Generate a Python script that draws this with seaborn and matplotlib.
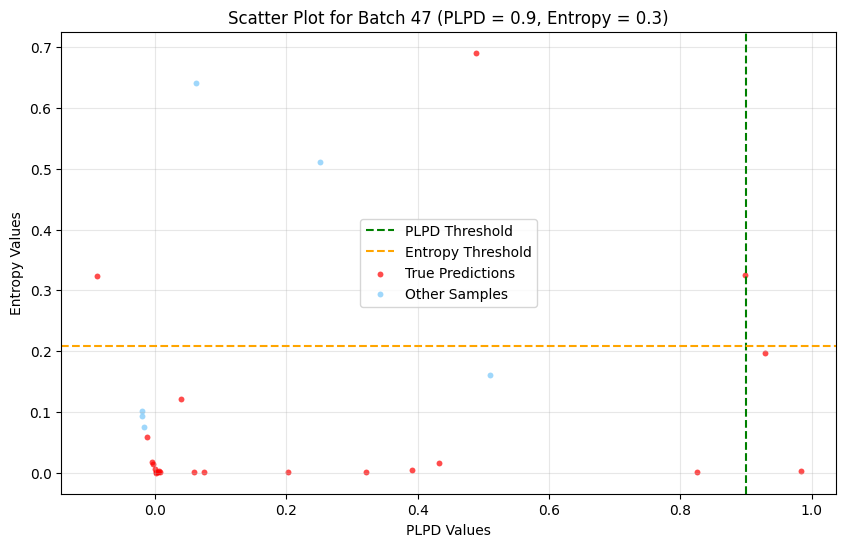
import numpy as np
import pandas as pd
import matplotlib
matplotlib.use("Agg")
import matplotlib.pyplot as plt
import seaborn as sns

# values
true_plpd = [0.489, -0.089, 0.898, 0.929, 0.039, -0.012, -0.004, -0.003, 0.000,
             0.002, 0.004, 0.006, 0.008, 0.001, 0.059, 0.074, 0.203, 0.322,
             0.392, 0.433, 0.826, 0.984]
true_entropy = [0.691, 0.323, 0.325, 0.197, 0.121, 0.059, 0.018, 0.014, 0.006,
                0.002, 0.001, 0.003, 0.002, 0.000, 0.002, 0.002, 0.001, 0.001,
                0.004, 0.016, 0.001, 0.003]

other_plpd = [0.063, 0.252, 0.510, -0.020, -0.019, -0.016]
other_entropy = [0.642, 0.511, 0.161, 0.102, 0.094, 0.076]

plpd_threshold = 0.9
entropy_threshold = 0.209
batch = 47

true_df = pd.DataFrame({"plpd": true_plpd, "entropy": true_entropy})
other_df = pd.DataFrame({"plpd": other_plpd, "entropy": other_entropy})

fig, ax = plt.subplots(figsize=(10, 6))
ax.axvline(plpd_threshold, color="green", linestyle="--", label="PLPD Threshold")
ax.axhline(entropy_threshold, color="orange", linestyle="--", label="Entropy Threshold")
sns.scatterplot(data=true_df, x="plpd", y="entropy", color="red", s=18, alpha=0.7,
                linewidth=0, label="True Predictions", ax=ax)
sns.scatterplot(data=other_df, x="plpd", y="entropy", color="lightskyblue", s=18, alpha=0.8,
                linewidth=0, label="Other Samples", ax=ax)

ax.set_title(f"Scatter Plot for Batch {batch} (PLPD = 0.9, Entropy = 0.3)")
ax.set_xlabel("PLPD Values")
ax.set_ylabel("Entropy Values")
ax.grid(True, alpha=0.3)
ax.legend(loc="center")

plt.savefig("out.png", dpi=100, bbox_inches="tight")
